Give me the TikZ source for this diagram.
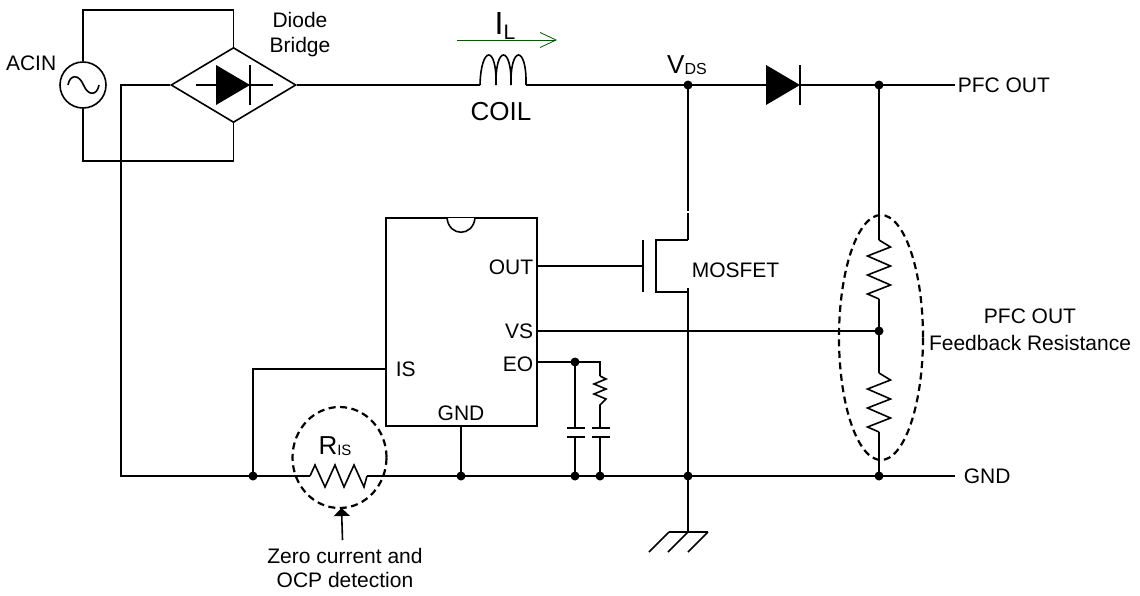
\documentclass[tikz,border=0pt]{standalone}
\usepackage{fontspec}
\setmainfont{Liberation Sans}
\usetikzlibrary{positioning,shapes.geometric,arrows.meta}
\newcommand{\fsz}[1]{\fontsize{#1}{#1}\selectfont}

\begin{document}
\begin{tikzpicture}[x=1pt,y=-1pt,line width=1.6pt,line join=miter,
       node distance=4pt]

    \tikzstyle{dot}=[circle,fill=black,minimum size=9pt,inner sep=0pt]
    \tikzstyle{lbl}=[inner sep=0pt,font=\fsz{21}]
    \tikzstyle{halo}=[draw=black,dash pattern=on 7pt off 4.5pt,line width=2.2pt]

    \useasboundingbox (0,0) rectangle (1140,595);

    % source and bridge
    \node[circle,draw,minimum size=46pt,inner sep=0pt] (acin) at (83,85) {};
    \node[lbl,anchor=east] (acinlbl) at (57,63) {ACIN};
    \draw (68,85) .. controls (70,74) and (79,74) .. (83.5,85)
          .. controls (88,96) and (97,96) .. (99,85);
    \node[diamond,draw,minimum width=125pt,minimum height=75pt,inner sep=0pt] (bridge) at (233.5,85) {};
    \node[lbl,align=center,anchor=north] (bridgelbl) at (300,11) {Diode\\[4pt]Bridge};
    \fill (216,65) -- (250,85) -- (216,105) -- cycle;
    \draw (250,65) -- (250,105);
    \draw (196,85) -- (273,85);

    \coordinate (topl) at (83,10);
    \coordinate (topr) at (233.5,10);
    \coordinate (botl) at (83,161);
    \coordinate (botr) at (233.5,161);
    \coordinate (retn) at (121,85);
    \draw (acin.north) -- (topl) -- (topr) -- (bridge.north);
    \draw (acin.south) -- (botl) -- (botr) -- (bridge.south);

    % top rail
    \coordinate (coilin) at (480,85);
    \coordinate (coilout) at (526,85);
    \node[dot] (vds) at (688,85) {};
    \coordinate (dioin) at (766,85);
    \coordinate (dioout) at (800,85);
    \node[dot] (fbtop) at (879,85) {};
    \coordinate (pfcend) at (955,85);
    \node[lbl,right=2pt of pfcend] (pfcout) {PFC OUT};

    \draw (bridge.east) -- (coilin);
    \draw (coilin) .. controls (481,45) and (497,45) .. (496,85)
          .. controls (495,45) and (512,45) .. (511,85)
          .. controls (510,45) and (527,45) .. (526,85);
    \draw (coilout) -- (vds.center) -- (dioin);
    \fill (766,65) -- (dioout) -- (766,105) -- cycle;
    \draw (800,65) -- (800,105);
    \draw (dioout) -- (fbtop.center) -- (pfcend);

    \coordinate (ilstart) at (457,40);
    \coordinate (ilend) at (557,40);
    \draw[line width=0.8pt,draw=green!35!black,-{Straight Barb[length=16pt,width=15pt]}] (ilstart) -- (ilend);
    \node[inner sep=0pt] (illbl) at (505,26) {\fsz{32}I\raisebox{-5pt}{\fsz{21}L}};
    \node[inner sep=0pt] (coillbl) at (501,112) {\fsz{26}COIL};
    \node[inner sep=0pt] (vdslbl) at (687,65) {\fsz{26}V\raisebox{-1pt}{\fsz{16}DS}};

    % controller
    \node[rectangle,draw,minimum width=151pt,minimum height=208pt,inner sep=0pt] (ic) at (461.5,322) {};
    \draw[fill=white] (447,218) .. controls (449,237) and (473,237) .. (475,218);
    \coordinate (pinout) at (537,266);
    \coordinate (pinvs) at (537,331);
    \coordinate (pineo) at (537,362);
    \coordinate (pinis) at (386,369);
    \coordinate (pingnd) at (461,426);
    \node[lbl,anchor=east] (outlbl) at (534,267) {OUT};
    \node[lbl,anchor=east] (vslbl) at (534,331) {VS};
    \node[lbl,anchor=east] (eolbl) at (534,364) {EO};
    \node[lbl,anchor=west] (islbl) at (395,369) {IS};
    \node[lbl] (gndlbl) at (461,413) {GND};

    % mosfet
    \coordinate (gate) at (643,266);
    \coordinate (drain) at (688,240);
    \coordinate (source) at (688,292);
    \draw (pinout) -- (gate);
    \draw (643,240) -- (643,292);
    \draw (drain) -- (656,240) -- (656,292) -- (source);
    \draw (vds.center) -- (688,211);
    \draw (688,213) -- (drain);
    \node[lbl,anchor=west] (mosfetlbl) at (691,270) {MOSFET};

    % gnd rail
    \node[dot] (jis) at (253,476) {};
    \coordinate (risin) at (310,476);
    \coordinate (risout) at (367,476);
    \node[dot] (jgnd) at (461,476) {};
    \node[dot] (jca) at (575,476) {};
    \node[dot] (jcb) at (600,476) {};
    \node[dot] (jsrc) at (688,476) {};
    \node[dot] (fbbot) at (879,476) {};
    \coordinate (gndend) at (955,476);
    \node[lbl,right=8pt of gndend] (gndout) {GND};

    \draw (bridge.west) -- (retn) -- (121,476) -- (risin);
    \draw (risin) -- ++(5,-11) -- ++(10,22) -- ++(10,-22) -- ++(9,22) -- ++(10,-22) -- ++(10,22) -- (risout);
    \draw (risout) -- (gndend);
    \draw (pinis) -- (253,369) -- (jis.center);
    \draw (pingnd) -- (jgnd.center);
    \draw (source) ++(0,-4) -- (jsrc.center);

    \coordinate (gndtop) at (688,532);
    \draw (jsrc.center) -- (gndtop);
    \draw (669,532) -- (708,532);
    \foreach \X in {669,688,708}
        {\draw (\X,532) -- ++(-20,20);}

    % sense resistor
    \node[ellipse,halo,minimum width=94pt,minimum height=101pt,inner sep=0pt] (rishalo) at (339.5,457.5) {};
    \node[inner sep=0pt] (rislbl) at (335,446) {\fsz{26}R\raisebox{-1pt}{\fsz{15}IS}};
    \node[lbl,align=center,anchor=north] (zerolbl) at (345,547) {Zero current and\\[3pt]OCP detection};
    \coordinate (zerotail) at (342.5,540);
    \draw[-{Triangle[length=8pt,width=16pt]}] (zerotail) -- (341.5,508);

    % eo network
    \node[dot] (jeo) at (575,362) {};
    \coordinate (eoturn) at (600,362);
    \draw (pineo) -- (jeo.center) -- (eoturn) -- (600,376);
    \draw (600,376) -- ++(6,3) -- ++(-12,5) -- ++(12,5) -- ++(-12,5) -- ++(12,5) -- ++(-6,6) -- (600,428);
    \draw (jeo.center) -- (575,427);
    \draw (575,437) -- (jca.center);
    \draw (600,437) -- (jcb.center);
    \foreach \X in {576,601}
        {\draw (\X-9,428) -- (\X+9,428);
         \draw (\X-9,437) -- (\X+9,437);}

    % feedback divider
    \node[dot] (fbmid) at (879,331) {};
    \coordinate (fbup) at (879,240);
    \coordinate (fbdn) at (879,373);
    \draw (pinvs) -- (fbmid.center);
    \draw (fbtop.center) -- (fbup);
    \foreach \Y in {240,373}
        {\draw (879,\Y) -- ++(11.5,7) -- ++(-23,9) -- ++(23,10) -- ++(-23,9) -- ++(23,10) -- ++(-23,9) -- ++(11.5,5);}
    \draw (879,299) -- (fbmid.center) -- (fbdn);
    \draw (879,432) -- (fbbot.center);
    \node[ellipse,halo,minimum width=84pt,minimum height=245pt,inner sep=0pt] (fbhalo) at (881,337.5) {};
    \node[lbl,align=center,anchor=north] (fblbl) at (1030,308) {PFC OUT\\[6pt]Feedback Resistance};

\end{tikzpicture}
\end{document}
